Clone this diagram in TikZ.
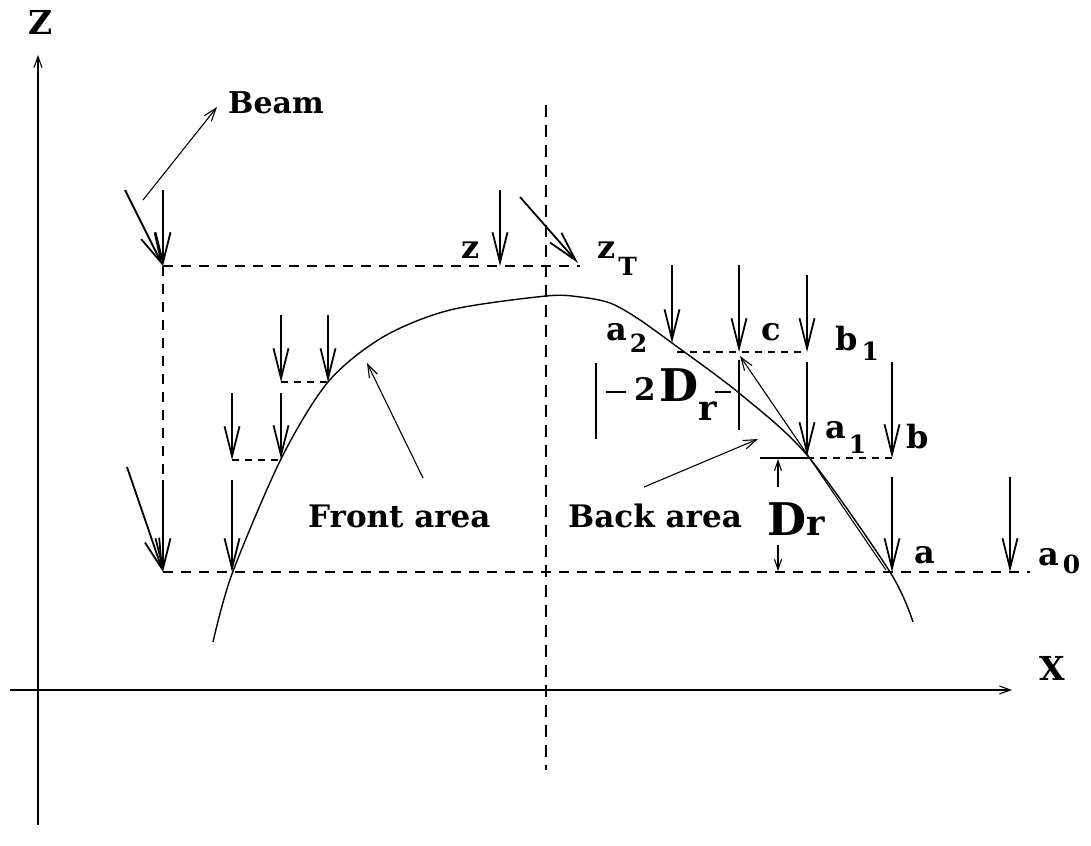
\documentclass[tikz,border=0pt]{standalone}
\usepackage{fontspec}
\setmainfont{DejaVu Serif}
\usetikzlibrary{arrows.meta}
\newcommand{\dsub}[2]{\raisebox{#1}{\fontsize{25}{25}\selectfont #2}}
\tikzset{
  lbl/.style={inner sep=0pt, anchor=base west, font=\fontsize{32}{32}\selectfont\bfseries},
  txt/.style={inner sep=0pt, anchor=base west, font=\fontsize{31}{31}\selectfont\bfseries},
  axlbl/.style={inner sep=0pt, font=\fontsize{33}{33}\selectfont\bfseries},
  bigD/.style={inner sep=0pt, anchor=base west, font=\fontsize{45}{45}\selectfont\bfseries},
  beam/.style={line width=1.8pt, -{Straight Barb[length=30pt,width=15pt]}},
  ptr/.style={line width=1.1pt, -{Straight Barb[length=13pt,width=9pt]}},
  axis/.style={line width=1.1pt, -{Straight Barb[length=11pt,width=8pt]}},
  dimarr/.style={line width=1.1pt, -{Straight Barb[length=10pt,width=7pt]}},
  longdash/.style={line width=1.5pt, dash pattern=on 10pt off 8pt},
  centerdash/.style={line width=1.5pt, dash pattern=on 12pt off 8pt},
  shortdash/.style={line width=1.2pt, dash pattern=on 7pt off 6pt},
  plain/.style={line width=1.3pt},
}
\begin{document}
\begin{tikzpicture}[x=1pt,y=-1pt]
\useasboundingbox (0,0) rectangle (1091,845);
% coordinates
\coordinate (zb) at (38,825);  \coordinate (zt) at (38,55);
\coordinate (xl) at (10,690);  \coordinate (xr) at (1012,690);
\coordinate (ct) at (546,105); \coordinate (cb) at (546,770);
\coordinate (P0) at (163,266); \coordinate (P0e) at (580,266);
\coordinate (Q0) at (163,572); \coordinate (Q0e) at (1030,572);
% beam arrow starts/ends
\coordinate (d1s) at (125,190); \coordinate (v1s) at (163,190);
\coordinate (d2s) at (127,467); \coordinate (v2s) at (163,480);
\coordinate (L1s) at (232,480); \coordinate (L1e) at (232,572);
\coordinate (L2s) at (232,393); \coordinate (L2e) at (232,460);
\coordinate (L3s) at (281,393); \coordinate (L3e) at (281,459);
\coordinate (L4s) at (281,315); \coordinate (L4e) at (281,382);
\coordinate (L5s) at (328,315); \coordinate (L5e) at (328,382);
\coordinate (zs) at (500,190);  \coordinate (ze) at (500,266);
\coordinate (zTs) at (520,197); \coordinate (zTe) at (578,263);
\coordinate (a2s) at (672,265); \coordinate (a2e) at (672,343);
\coordinate (cs) at (739,265);  \coordinate (ce) at (739,352);
\coordinate (b1s) at (807,275); \coordinate (b1e) at (807,352);
\coordinate (a1s) at (807,362); \coordinate (a1e) at (807,456);
\coordinate (bs) at (892,362);  \coordinate (be) at (892,458);
\coordinate (as) at (892,477);  \coordinate (ae) at (892,572);
\coordinate (a0s) at (1010,477);\coordinate (a0e) at (1010,572);
% short dashed ends
\coordinate (sd1a) at (232,460); \coordinate (sd1b) at (281,460);
\coordinate (sd2a) at (281,382); \coordinate (sd2b) at (328,382);
\coordinate (sd3a) at (677,352); \coordinate (sd3b) at (807,352);
\coordinate (sd4a) at (807,458); \coordinate (sd4b) at (892,458);
\coordinate (ext) at (760,458);
% pointers
\coordinate (bps) at (143,200); \coordinate (bpe) at (217,107);
\coordinate (fps) at (423,478); \coordinate (fpe) at (367,363);
\coordinate (kps) at (644,487); \coordinate (kpe) at (758,439);
\coordinate (acs) at (886,570); \coordinate (ace) at (740,356);
% D_r dimension
\coordinate (du1) at (778,487); \coordinate (du2) at (778,459);
\coordinate (dl1) at (778,545); \coordinate (dl2) at (778,571);
% 2D_r dimension
\coordinate (lb1) at (596,363); \coordinate (lb2) at (596,439);
\coordinate (rb1) at (739,360); \coordinate (rb2) at (739,430);
\coordinate (lt1) at (606,392); \coordinate (lt2) at (626,392);
\coordinate (rt1) at (715,392); \coordinate (rt2) at (731,392);

% axes
\draw[axis] (zb) -- (zt);
\draw[axis] (xl) -- (xr);
\node[axlbl] (Zl) at (41,22) {Z};
\node[axlbl] (Xl) at (1052,668) {X};

% dashed construction lines
\draw[centerdash] (ct) -- (cb);
\draw[longdash] (P0) -- (P0e);
\draw[longdash] (P0) -- (Q0);
\draw[longdash] (Q0) -- (Q0e);
\draw[shortdash] (sd1a) -- (sd1b);
\draw[shortdash] (sd2a) -- (sd2b);
\draw[shortdash] (sd3a) -- (sd3b);
\draw[shortdash] (sd4a) -- (sd4b);
\draw[plain] (ext) -- (sd4a);

% surface curve
\draw[line width=1.4pt] plot[smooth, tension=0.5] coordinates {
  (213,642) (232,574) (281,459) (328,382) (383,337) (450,310) (546,296)
  (580,297) (610,303) (637,318) (672,343) (739,393) (807,455) (890,572) (913,622)};

% beam arrows
\draw[beam] (d1s) -- (P0);
\draw[beam] (v1s) -- (P0);
\draw[beam] (d2s) -- (Q0);
\draw[beam] (v2s) -- (Q0);
\draw[beam] (L1s) -- (L1e);
\draw[beam] (L2s) -- (L2e);
\draw[beam] (L3s) -- (L3e);
\draw[beam] (L4s) -- (L4e);
\draw[beam] (L5s) -- (L5e);
\draw[beam] (zs) -- (ze);
\draw[beam] (zTs) -- (zTe);
\draw[beam] (a2s) -- (a2e);
\draw[beam] (cs) -- (ce);
\draw[beam] (b1s) -- (b1e);
\draw[beam] (a1s) -- (a1e);
\draw[beam] (bs) -- (be);
\draw[beam] (as) -- (ae);
\draw[beam] (a0s) -- (a0e);

% pointers
\draw[ptr] (bps) -- (bpe);
\draw[ptr] (fps) -- (fpe);
\draw[ptr] (kps) -- (kpe);
\draw[ptr] (acs) -- (ace);

% D_r dimension
\draw[dimarr] (du1) -- (du2);
\draw[dimarr] (dl1) -- (dl2);
\node[bigD] (Dr) at (767,535) {D\kern0pt{\fontsize{35}{35}\selectfont r}};

% 2D_r dimension
\draw[plain] (lb1) -- (lb2);
\draw[plain] (rb1) -- (rb2);
\draw[plain] (lt1) -- (lt2);
\draw[plain] (rt1) -- (rt2);
\node[txt, font=\fontsize{31}{31}\selectfont\bfseries] (two) at (634,400) {2};
\node[bigD] (D2) at (659,401) {D};
\node[inner sep=0pt, anchor=base west, font=\fontsize{35}{35}\selectfont\bfseries] (r2) at (D2.base east) [yshift=-19pt] {r};

% labels
\node[txt, font=\fontsize{30}{30}\selectfont\bfseries] (beamlbl) at (228,114) {Beam};
\node[lbl] (zlbl) at (461,258) {z};
\node[lbl] (zTlbl) at (597,258) {z\kern3pt\dsub{-17pt}{T}};
\node[lbl] (a2lbl) at (606,340) {a\kern3pt\dsub{-12pt}{2}};
\node[lbl] (clbl) at (761,340) {c};
\node[lbl] (b1lbl) at (835,350) {b\kern4pt\dsub{-10pt}{1}};
\node[lbl] (a1lbl) at (825,438) {a\kern3pt\dsub{-15pt}{1}};
\node[lbl] (blbl) at (906,448) {b};
\node[lbl] (albl) at (914,563) {a};
\node[lbl] (a0lbl) at (1038,565) {a\kern4pt\dsub{-8pt}{0}};
\node[txt] (front) at (308,527) {Front area};
\node[txt] (back) at (568,527) {Back area};
\end{tikzpicture}
\end{document}
